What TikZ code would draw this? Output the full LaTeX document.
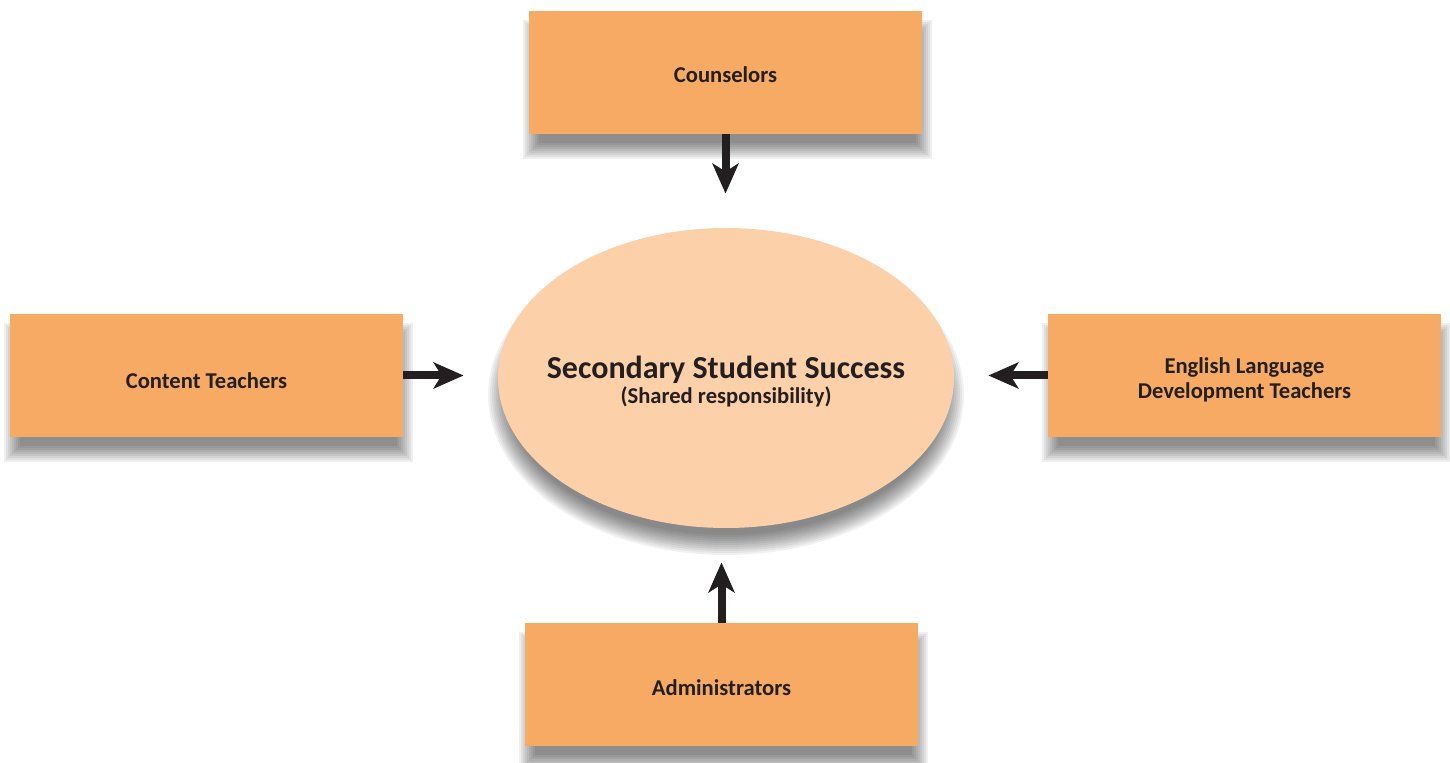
\documentclass[tikz,border=0pt]{standalone}
\usepackage{fontspec}
\setmainfont{Carlito}
\usetikzlibrary{arrows.meta,backgrounds,shapes.geometric}
\definecolor{boxc}{HTML}{F7AA63}
\definecolor{ellc}{HTML}{FCD0A8}
\definecolor{txt}{HTML}{231F20}
\newcommand\mydown[2]{\raisebox{-#1}[\height][\depth]{#2}}
\begin{document}
\begin{tikzpicture}[x=0.5pt,y=-0.5pt,
  box/.style={rectangle, fill=boxc, minimum width=196.5pt, minimum height=61.5pt,
    inner sep=0pt, font=\bfseries\fontsize{11.3}{12}\selectfont, text=txt, align=center},
  hub/.style={ellipse, fill=ellc, minimum width=228pt, minimum height=150pt,
    inner sep=-14pt, align=center, text=txt},
  link/.style={line width=4pt, draw=txt, -{Stealth[length=15pt,width=13pt,inset=4pt]}, shorten >=17pt},
  shade/.style={fill=black, opacity=0.062}]
\useasboundingbox (0,0) rectangle (1450,763);

\node[box] (co) at (725.5,72.5) {\mydown{1pt}{Counselors}};
\node[box] (ct) at (206.5,375.5) {\mydown{2.5pt}{Content Teachers}};
\node[box] (eld) at (1244.5,375.5) {\mydown{3pt}{\begin{tabular}{@{}c@{}}English Language\\[0.3pt]Development Teachers\end{tabular}}};
\node[box] (ad) at (721.5,684.5) {\mydown{1.8pt}{Administrators}};
\node[hub] (e) at (726,378) {\mydown{2.6pt}{\begin{tabular}{@{}c@{}}{\bfseries\fontsize{16}{17}\selectfont Secondary Student Success}\\[0.3pt]{\bfseries\fontsize{11.3}{12}\selectfont (Shared responsibility)}\end{tabular}}};

\begin{scope}[on background layer]
  \foreach \n in {co,ct,eld,ad}{
    \foreach \d in {-8,-6,...,8}{
      \fill[shade] ([shift={(-\d+2,17-\d)}]\n.north west) rectangle ([shift={(\d+2,17+\d)}]\n.south east);
    }
  }
  \foreach \d [evaluate=\d as \rx using 114+\d/2, evaluate=\d as \ry using 75+\d/2] in {-10,-8,...,10}{
    \fill[fill=black, opacity=0.055] ([yshift=-8.5pt]e.center) ellipse [x radius=\rx pt, y radius=\ry pt];
  }
\end{scope}

\draw[link] (co.south) -- (co.south |- e.north);
\draw[link] (ct.east) -- (ct.east -| e.west);
\draw[link] (eld.west) -- (eld.west -| e.east);
\draw[link] (ad.north) -- (ad.north |- e.south);
\end{tikzpicture}
\end{document}
